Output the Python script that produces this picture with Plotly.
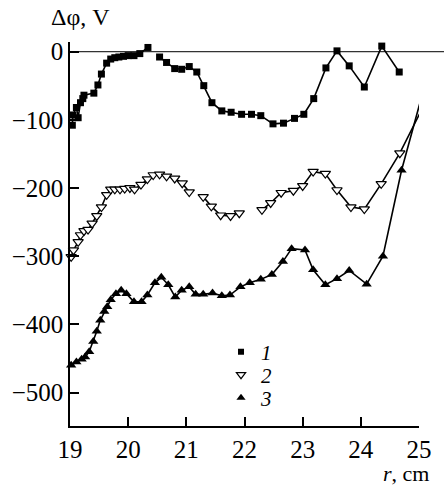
import plotly.graph_objects as go

# Potential profiles Δφ(r); None marks a break in the connecting line
r1 = [19.04, 19.05, 19.11, 19.14, 19.18, 19.22, 19.24, 19.41, 19.48, 19.54, 19.63, 19.70,
      19.77, 19.84, 19.92, 20.00, 20.10, 20.20, 20.34, None, 20.54, 20.66, 20.80, 20.92,
      21.05, 21.18, 21.30, 21.44, 21.61, 21.77, 21.95, 22.12, 22.28, 22.49, 22.67, 22.86,
      23.02, 23.19, 23.40, 23.59, 23.80, 24.06, 24.36, 24.66]
phi1 = [-108, -93, -82, -97, -75, -69, -64, -61, -49, -33, -17, -11,
        -9, -8, -7, -6, -6, -3, 6, None, -8, -16, -25, -26,
        -22, -30, -50, -75, -87, -89, -92, -92, -94, -106, -105, -98,
        -92, -69, -24, 1, -21, -52, 8, -30]

r2 = [19.02, 19.06, 19.14, 19.18, 19.24, 19.31, 19.38, 19.46, 19.54, 19.63, 19.70, 19.77,
      19.86, 19.94, 20.03, 20.11, 20.22, 20.33, 20.43, 20.54, 20.66, 20.80, 20.93, 21.05,
      None, 21.29, 21.43, 21.59, 21.76, 21.91, None, 22.30, 22.45, 22.63, 22.84, 23.00,
      23.18, 23.39, 23.59, 23.83, 24.06, 24.35, 24.67, 25.03]
phi2 = [-301, -291, -279, -269, -263, -261, -252, -241, -228, -210, -202, -202,
        -202, -201, -200, -202, -195, -187, -181, -180, -183, -186, -193, -206,
        None, -213, -227, -240, -241, -237, None, -232, -222, -207, -204, -197,
        -176, -179, -203, -228, -231, -194, -149, -88]

r3 = [19.02, 19.11, 19.20, 19.26, 19.33, 19.40, 19.46, 19.52, 19.59, 19.64, 19.70, 19.79,
      19.88, 19.97, 20.10, 20.23, 20.33, 20.46, 20.57, 20.69, 20.81, 20.92, 21.05, 21.16,
      21.29, 21.45, 21.61, 21.75, 21.93, 22.09, 22.28, 22.47, 22.66, 22.81, 23.04, 23.18,
      23.39, 23.59, 23.80, 24.10, 24.38, 24.70, 25.03]
phi3 = [-460, -455, -451, -448, -440, -425, -410, -394, -381, -374, -364, -355,
        -350, -355, -367, -367, -357, -339, -331, -342, -360, -350, -345, -356,
        -356, -354, -358, -357, -345, -339, -334, -327, -308, -289, -291, -320,
        -342, -333, -321, -341, -300, -174, -71]

series_names = ["1", "2", "3"]
x_ticks = [19, 20, 21, 22, 23, 24, 25]
y_ticks = [0, -100, -200, -300, -400, -500]
y_tick_text = ["0", "\u2212100", "\u2212200", "\u2212300", "\u2212400", "\u2212500"]

FONT = "Liberation Serif"
INK = "black"

styles = [
    dict(symbol="square", size=7, color=INK),
    dict(symbol="triangle-down", size=9, color="white", line=dict(color=INK, width=1.2)),
    dict(symbol="triangle-up", size=9, color=INK),
]
key_styles = [
    dict(symbol="square", size=6, color=INK),
    dict(symbol="triangle-down", size=8, color="white", line=dict(color=INK, width=1.2)),
    dict(symbol="triangle-up", size=8, color=INK),
]
legend_ids = ["legend", "legend2", "legend3"]

fig = go.Figure()

for xs, ys, name, mk, key_mk, lg in zip([r1, r2, r3], [phi1, phi2, phi3], series_names,
                                        styles, key_styles, legend_ids):
    fig.add_trace(go.Scatter(
        x=xs, y=ys, name=name, mode="lines+markers",
        line=dict(color=INK, width=1.6), marker=mk,
        cliponaxis=False, showlegend=False,
    ))
    # marker-only key entry
    fig.add_trace(go.Scatter(
        x=[None], y=[None], name=name, mode="markers", marker=key_mk,
        showlegend=True, legend=lg,
    ))

# zero reference line running past the right end of the axis
fig.add_shape(type="line", xref="paper", yref="y", x0=0, x1=1.072, y0=0, y1=0,
              line=dict(color="#333333", width=1.2), layer="below")

legend_common = dict(
    x=0.4327, xanchor="left", yanchor="middle",
    bgcolor="rgba(0,0,0,0)", borderwidth=0,
    font=dict(family=FONT, size=21, color=INK, style="italic"),
    itemwidth=30, tracegroupgap=0,
)

fig.update_layout(
    width=444, height=485,
    margin=dict(l=70, r=25, t=42, b=59),
    paper_bgcolor="white", plot_bgcolor="white",
    font=dict(family=FONT, size=24, color=INK),
    showlegend=True,
    legend=dict(y=1 - (352 - 42) / 384, **legend_common),
    legend2=dict(y=1 - (375 - 42) / 384, **legend_common),
    legend3=dict(y=1 - (398 - 42) / 384, **legend_common),
    xaxis=dict(
        range=[19, 25], tickvals=x_ticks, ticktext=[str(v) for v in x_ticks],
        showgrid=False, zeroline=False, showline=True, linecolor=INK, linewidth=1.5,
        ticks="inside", ticklen=9, tickwidth=1.5, tickcolor=INK,
        tickfont=dict(family=FONT, size=25, color=INK),
    ),
    yaxis=dict(
        range=[-549, 14], tickvals=y_ticks, ticktext=y_tick_text,
        showgrid=False, zeroline=False, showline=True, linecolor=INK, linewidth=1.5,
        ticks="inside", ticklen=9, tickwidth=1.5, tickcolor=INK,
        tickfont=dict(family=FONT, size=25, color=INK),
    ),
    annotations=[
        dict(text="\u0394\u03c6, V", xref="paper", yref="paper",
             x=-0.06, y=1.0, xanchor="left", yanchor="bottom", yshift=10,
             showarrow=False, font=dict(family=FONT, size=24, color=INK)),
        dict(text="<i>r</i>, cm", xref="paper", yref="paper",
             x=1.035, y=0, xanchor="right", yanchor="top", yshift=-33,
             showarrow=False, font=dict(family=FONT, size=22, color=INK)),
    ],
)

fig.write_html("out.html")
